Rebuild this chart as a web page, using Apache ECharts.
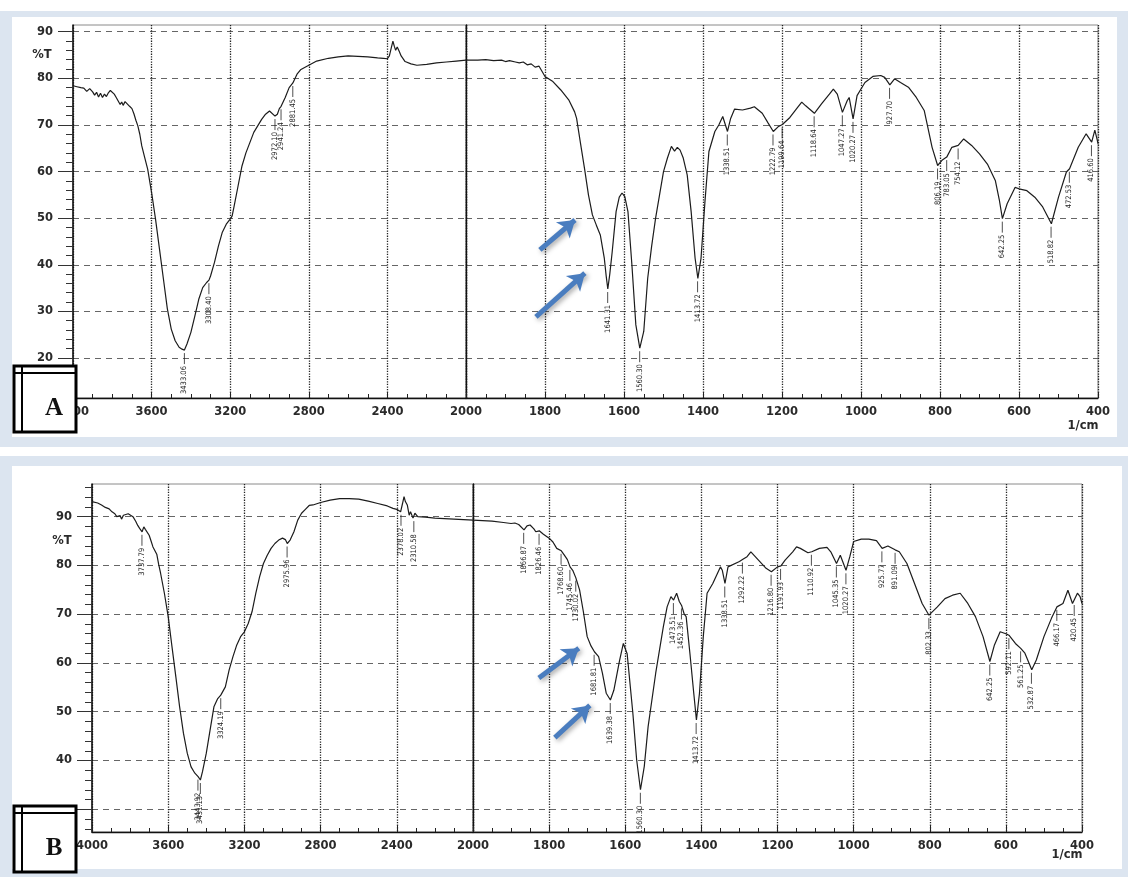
<!DOCTYPE html>
<html>
<head>
<meta charset="utf-8">
<title>FTIR spectra A and B</title>
<script src="https://cdn.jsdelivr.net/npm/echarts@6/dist/echarts.min.js"></script>
<style>
html,body{margin:0;padding:0;background:#fff;}
#main{width:1128px;height:877px;}
</style>
</head>
<body>
<div id="main"></div>
<script>
// ---- spectrum A (wavenumber 1/cm, %T) ----
var wnA = [4000,3980,3960,3945,3930,3915,3900,3890,3880,3870,3860,3850,3840,3830,3820,3810,3800,3790,3780,3770,
  3760,3752,3745,3735,3725,3712,3700,3690,3680,3670,3660,3650,3635,3620,3600,3580,3560,3540,3520,3500,
  3480,3460,3445,3433,3420,3400,3380,3360,3340,3320,3308,3300,3280,3260,3240,3220,3200,3190,3180,3160,
  3140,3120,3100,3080,3060,3040,3020,3000,2990,2972,2960,2950,2941,2920,2900,2881,2860,2840,2800,2760,
  2700,2650,2600,2550,2500,2450,2420,2400,2390,2380,2372,2365,2358,2350,2340,2330,2310,2280,2250,2200,
  2150,2100,2050,2000,1970,1950,1930,1910,1900,1890,1875,1865,1855,1845,1835,1825,1815,1800,1780,1760,
  1740,1725,1720,1710,1700,1690,1680,1670,1660,1650,1645,1641,1636,1630,1620,1612,1605,1598,1590,1580,
  1570,1560,1550,1540,1530,1520,1510,1500,1490,1480,1472,1465,1458,1450,1440,1430,1420,1413,1405,1395,
  1385,1370,1360,1350,1345,1338,1330,1320,1300,1280,1270,1250,1235,1222,1210,1199,1180,1160,1150,1140,
  1118,1100,1080,1070,1060,1047,1035,1030,1020,1010,1000,990,970,950,940,927,915,900,880,860,
  840,820,806,795,783,770,754,740,720,700,680,660,650,642,630,610,600,580,560,540,
  518,500,480,472,450,430,425,416,408,402,400];
var tA = [78.4,78.2,78.0,77.9,77.2,77.8,77.1,76.4,77.0,76.0,76.8,75.9,76.6,76.1,76.9,77.4,77.2,76.6,75.9,76.3,
  74.4,74.9,74.2,75.0,74.6,74.0,73.5,72.4,71.0,69.8,68.0,65.5,63.0,60.5,55.5,49.8,43.4,37.0,30.6,26.2,
  23.7,22.3,21.9,21.7,23.0,25.5,29.0,32.6,35.1,36.2,36.7,37.6,40.5,44.0,47.0,48.7,49.8,50.5,52.6,56.9,
  61.2,64.0,66.2,68.4,69.8,71.2,72.3,73.0,72.6,71.9,72.3,73.5,74.0,75.9,78.0,79.0,80.9,81.9,82.8,83.7,
  84.3,84.6,84.8,84.7,84.6,84.4,84.3,84.2,84.8,86.6,88.0,86.9,86.0,86.7,85.8,84.8,83.6,83.1,82.8,83.0,
  83.3,83.5,83.7,83.9,83.9,84.0,83.8,83.9,83.6,83.8,83.5,83.3,83.5,82.9,83.1,82.4,82.6,80.4,79.3,77.5,
  75.4,72.8,71.4,66.0,60.7,55.0,50.7,48.5,46.4,41.5,37.5,34.8,38.0,42.7,51.4,54.5,55.4,54.6,51.4,40.0,
  27.1,22.1,25.7,37.1,44.0,50.0,55.0,60.0,62.9,65.4,64.4,65.2,64.6,62.9,59.3,51.4,41.4,37.1,41.4,53.6,
  64.3,68.6,70.0,71.8,72.1,68.6,71.4,73.4,73.2,73.6,73.9,72.5,70.4,68.6,69.6,70.1,71.6,73.8,74.9,74.1,
  72.5,74.5,76.6,77.7,76.6,72.7,75.2,75.9,71.3,76.3,77.7,79.1,80.4,80.6,80.2,78.6,79.9,79.1,78.1,75.9,
  73.1,65.2,61.3,62.4,63.1,65.2,65.6,67.0,65.6,63.8,61.6,58.1,54.0,49.9,53.1,56.6,56.3,55.9,54.5,52.4,
  48.8,54.5,59.9,60.6,65.2,68.1,68.4,66.3,68.9,66.8,66.0];

// ---- spectrum B ----
var wnB = [4000,3970,3950,3930,3910,3895,3880,3870,3860,3852,3845,3835,3825,3810,3800,3785,3770,3760,3750,3737,
  3728,3720,3710,3700,3690,3680,3670,3660,3650,3640,3620,3600,3580,3560,3540,3520,3500,3480,3460,3443,
  3431,3420,3400,3380,3360,3340,3324,3300,3280,3260,3240,3220,3200,3180,3160,3140,3120,3100,3080,3060,
  3040,3020,3000,2985,2975,2960,2940,2920,2900,2880,2860,2840,2800,2750,2700,2650,2600,2550,2500,2450,
  2420,2400,2380,2370,2362,2355,2345,2335,2328,2315,2305,2290,2250,2200,2100,2000,1950,1920,1900,1890,
  1880,1866,1858,1850,1840,1835,1826,1815,1800,1790,1780,1768,1760,1752,1745,1738,1730,1720,1710,1700,
  1690,1681,1670,1660,1650,1639,1630,1615,1605,1595,1580,1570,1560,1550,1540,1520,1500,1490,1480,1473,
  1465,1458,1452,1445,1440,1430,1420,1413,1405,1395,1385,1370,1350,1345,1338,1330,1300,1292,1280,1270,
  1250,1230,1216,1200,1191,1180,1160,1150,1140,1120,1110,1090,1070,1060,1045,1035,1020,1010,1000,980,
  960,940,925,910,891,880,860,840,820,802,780,760,740,720,700,680,660,642,630,615,
  600,592,575,561,550,532,520,500,480,466,450,437,425,412,405,400];
var tB = [93.1,92.8,92.4,91.9,91.6,91.0,90.6,90.0,89.6,90.2,89.5,90.3,90.0,90.6,90.5,90.0,89.0,88.2,87.6,86.9,
  87.9,87.4,87.2,86.2,85.0,83.8,83.4,82.3,80.2,78.4,74.3,69.5,63.3,57.2,51.0,45.6,41.5,38.7,37.4,36.7,
  36.0,37.7,41.5,46.3,51.0,52.7,53.4,55.1,58.6,61.3,63.7,65.4,66.4,68.1,70.5,74.3,77.7,80.4,82.1,83.5,
  84.5,85.2,85.6,85.3,84.5,85.2,86.9,89.3,90.7,91.5,92.3,92.4,92.9,93.4,93.7,93.7,93.6,93.2,92.7,92.2,
  91.7,91.5,91.0,92.7,94.1,93.1,92.4,90.3,91.0,89.7,90.7,90.0,89.9,89.7,89.5,89.3,89.1,88.8,88.6,88.7,
  88.4,87.3,88.1,88.3,87.5,86.9,87.1,86.4,85.6,84.8,83.5,83.0,82.1,81.2,79.7,79.0,77.5,75.0,70.5,65.4,
  63.5,62.3,61.3,57.9,53.8,52.4,54.4,60.5,64.0,61.9,49.7,40.1,34.0,38.8,46.9,57.9,67.4,71.5,73.6,72.9,
  74.3,72.6,71.8,70.0,69.5,61.9,53.8,48.3,53.8,65.4,74.3,76.3,79.7,79.0,76.3,79.7,80.8,81.2,81.8,82.8,
  81.1,79.4,78.7,79.7,79.9,81.1,82.8,83.8,83.5,82.6,82.8,83.5,83.7,82.8,80.4,82.1,79.0,81.8,84.9,85.4,
  85.4,85.1,83.5,84.0,83.2,82.8,80.4,76.3,72.2,69.8,71.5,73.2,73.9,74.3,72.2,69.5,65.4,60.3,63.7,66.4,
  66.0,65.7,64.0,63.0,62.0,58.6,60.6,65.4,69.2,71.5,72.2,74.9,72.2,74.3,73.6,72.2];

// ---- peak annotations ----
var peaksA = ['3433.06','3308.40','2972.10','2941.24','2881.45','1641.31','1560.30','1413.72','1338.51','1222.79',
  '1199.64','1118.64','1047.27','1020.27','927.70','806.19','783.05','754.12','642.25','518.82','472.53','416.60'];
var peakTA = [21.7,36.7,71.9,74.0,79.0,34.8,22.1,37.1,68.6,68.6,70.1,72.5,72.7,71.3,78.6,61.3,63.1,65.6,49.9,48.8,60.6,66.3];
var peaksB = ['3737.79','3443.92','3431.13','3324.19','2975.96','2378.02','2310.58','1866.87','1826.46','1768.60',
  '1745.46','1730.02','1681.81','1639.38','1560.30','1473.51','1452.36','1413.72','1338.51','1292.22','1216.80',
  '1191.93','1110.92','1045.35','1020.27','925.77','891.09','802.33','642.25','592.11','561.25','532.87','466.17','420.45'];
var peakTB = [86.9,36.7,36.0,53.4,84.5,91.0,89.7,87.3,87.1,83.0,79.7,77.5,62.3,52.4,34.0,72.9,71.8,48.3,76.3,81.2,78.7,
  79.9,82.8,80.4,79.0,83.5,83.2,69.8,60.3,65.7,63.0,58.6,71.5,72.5];

// arrows: [fromWn, fromT, toWn, toT]
var arrowsA = [[1813,43.2,1724,49.6],[1823,28.8,1699,38.2]];
var arrowsB = [[1827,56.9,1722,63.0],[1785,44.7,1693,51.3]];

var yTicksA = [20,30,40,50,60,70,80,90];
var yTicksB = [30,40,50,60,70,80,90];
var yLabelsB = [40,50,60,70,80,90];   // 30 sits under the "B" box

function part(wn, t, lo, hi){
  var out = [];
  for (var i = 0; i < wn.length; i++) {
    if (wn[i] >= lo && wn[i] <= hi) out.push([wn[i], t[i]]);
  }
  return out;
}
function minorVals(lo, hi){
  var out = [];
  for (var v = lo; v <= hi; v += 2) { if (v % 10 !== 0) out.push(v); }
  return out;
}

var lblFont = '7.5px "Liberation Sans Narrow", "DejaVu Sans Condensed", sans-serif';
function peakSeries(xi, yi, labels, ts, lo, hi){
  var texts = [], data = [];
  labels.forEach(function(s, i){
    var w = parseFloat(s);
    if (w >= lo && w <= hi) { texts.push(s); data.push([w, ts[i]]); }
  });
  return {
    type: 'custom', xAxisIndex: xi, yAxisIndex: yi, silent: true, z: 5,
    encode: {x: 0, y: 1},
    data: data,
    renderItem: function(params, api){
      var p = api.coord([api.value(0), api.value(1)]);
      return {type: 'group', children: [
        {type: 'line', shape: {x1: p[0], y1: p[1] + 3, x2: p[0], y2: p[1] + 14},
          style: {stroke: '#222', lineWidth: 0.8}},
        {type: 'text', x: p[0], y: p[1] + 16, rotation: Math.PI / 2,
          style: {text: texts[params.dataIndex], fill: '#222', font: lblFont,
            align: 'right', verticalAlign: 'middle'}}
      ]};
    }
  };
}

function arrowLines(list){
  return list.map(function(a){ return [{coord: [a[0], a[1]]}, {coord: [a[2], a[3]]}]; });
}

var axisFont = {color: '#2a2a2a', fontSize: 11.5, fontWeight: 'bold', fontFamily: 'DejaVu Sans'};

function xAxisCfg(grid, min, max, step, hide){
  return {
    type: 'value', gridIndex: grid, min: min, max: max, interval: step, inverse: true,
    axisLine: {show: true, onZero: false, lineStyle: {color: '#111', width: 1.3}},
    axisTick: {show: true, inside: true, length: 6, lineStyle: {color: '#222'}},
    minorTick: {show: true, splitNumber: 4, length: 4, lineStyle: {color: '#222'}},
    axisLabel: Object.assign({margin: 8, formatter: function(v){ return v === hide ? '' : String(v); }}, axisFont),
    splitLine: {show: true, lineStyle: {color: '#222', type: 'dotted', width: 1.3}}
  };
}
function yMain(grid, min, max, ticks, labels){
  return {
    type: 'value', gridIndex: grid, min: min, max: max, position: 'left',
    axisLine: {show: true, lineStyle: {color: '#111', width: 1.5}},
    axisTick: {show: true, length: 15, customValues: ticks, lineStyle: {color: '#333'}},
    axisLabel: Object.assign({margin: 20, customValues: labels}, axisFont),
    splitLine: {show: true, lineStyle: {color: '#666', type: [6, 5], width: 1}}
  };
}
function yMinor(grid, min, max, lo, hi){
  return {
    type: 'value', gridIndex: grid, min: min, max: max, position: 'left',
    axisLine: {show: false},
    axisTick: {show: true, length: 7, customValues: minorVals(lo, hi), lineStyle: {color: '#333'}},
    axisLabel: {show: false}, splitLine: {show: false}
  };
}
function yRight(grid, min, max, ticks){
  return {
    type: 'value', gridIndex: grid, min: min, max: max, position: 'left',
    axisLine: {show: true, lineStyle: {color: '#111', width: 1.3}},
    axisTick: {show: false, customValues: ticks},
    axisLabel: {show: false},
    splitLine: {show: true, lineStyle: {color: '#666', type: [6, 5], width: 1}}
  };
}

var curveStyle = {color: '#1c1c1c', width: 1.2};
var arrowStyle = {
  silent: true, symbol: ['none', 'arrow'], symbolSize: 16,
  lineStyle: {color: '#4a7dbf', width: 5, type: 'solid', opacity: 1,
    shadowBlur: 5, shadowColor: 'rgba(0,0,0,0.35)', shadowOffsetX: 2, shadowOffsetY: 2},
  itemStyle: {color: '#4a7dbf'},
  label: {show: false}, emphasis: {disabled: true}
};

var gridBox = {show: true, borderColor: '#8a8a8a', borderWidth: 1};

// letter box drawn on top of axis labels (covers the "40" of 4000 in panel A)
function boxGraphic(x, y, letter){
  return [
    {type: 'rect', z: 200, shape: {x: x, y: y, width: 62, height: 66}, style: {fill: '#fff', stroke: '#000', lineWidth: 3}},
    {type: 'line', z: 201, shape: {x1: x + 8, y1: y, x2: x + 8, y2: y + 66}, style: {stroke: '#000', lineWidth: 2}},
    {type: 'line', z: 201, shape: {x1: x, y1: y + 7, x2: x + 62, y2: y + 7}, style: {stroke: '#000', lineWidth: 2}},
    {type: 'text', z: 202, x: x + 40, y: y + 43, style: {text: letter, font: 'bold 25px "Liberation Serif", serif',
      fill: '#111', align: 'center', verticalAlign: 'middle'}}
  ];
}
function txt(x, y, s){
  return {type: 'text', z: 50, x: x, y: y, style: {text: s, font: 'bold 11.5px "DejaVu Sans"', fill: '#2a2a2a',
    align: 'center', verticalAlign: 'middle'}};
}

var chart = echarts.init(document.getElementById('main'));
var option = {
  animation: false,
  backgroundColor: '#fff',
  grid: [
    Object.assign({left: 73, top: 25, width: 393, height: 373}, gridBox),
    Object.assign({left: 466, top: 25, width: 632, height: 373}, gridBox),
    Object.assign({left: 92, top: 484, width: 381, height: 348}, gridBox),
    Object.assign({left: 473, top: 484, width: 609, height: 348}, gridBox)
  ],
  xAxis: [
    xAxisCfg(0, 2000, 4000, 400, 2000),
    xAxisCfg(1, 400, 2000, 200, null),
    xAxisCfg(2, 2000, 4000, 400, 2000),
    xAxisCfg(3, 400, 2000, 200, null)
  ],
  yAxis: [
    yMain(0, 11.42, 91.44, yTicksA, yTicksA),
    yMinor(0, 11.42, 91.44, 12, 90),
    yRight(1, 11.42, 91.44, yTicksA),
    yMain(2, 25.34, 96.7, yTicksB, yLabelsB),
    yMinor(2, 25.34, 96.7, 26, 96),
    yRight(3, 25.34, 96.7, yTicksB)
  ],
  graphic: {elements: [
    {type: 'rect', z: -10, silent: true, shape: {x: 0, y: 11, width: 1128, height: 436}, style: {fill: '#dce5f0'}},
    {type: 'rect', z: -9, silent: true, shape: {x: 12, y: 17, width: 1105, height: 420}, style: {fill: '#fff'}},
    {type: 'rect', z: -10, silent: true, shape: {x: 0, y: 456, width: 1128, height: 421}, style: {fill: '#dce5f0'}},
    {type: 'rect', z: -9, silent: true, shape: {x: 12, y: 466, width: 1110, height: 403}, style: {fill: '#fff'}},
    txt(42, 55, '%T'), txt(62, 541, '%T'),
    txt(1083, 426, '1/cm'), txt(1067, 855, '1/cm')
  ].concat(boxGraphic(14, 366, 'A'), boxGraphic(14, 806, 'B'))},
  series: [
    {type: 'line', xAxisIndex: 0, yAxisIndex: 0, data: part(wnA, tA, 2000, 4000), showSymbol: false,
      lineStyle: curveStyle, silent: true, z: 3},
    {type: 'line', xAxisIndex: 1, yAxisIndex: 2, data: part(wnA, tA, 400, 2000), showSymbol: false,
      lineStyle: curveStyle, silent: true, z: 3,
      markLine: Object.assign({data: arrowLines(arrowsA)}, arrowStyle)},
    {type: 'line', xAxisIndex: 2, yAxisIndex: 3, data: part(wnB, tB, 2000, 4000), showSymbol: false,
      lineStyle: curveStyle, silent: true, z: 3},
    {type: 'line', xAxisIndex: 3, yAxisIndex: 5, data: part(wnB, tB, 400, 2000), showSymbol: false,
      lineStyle: curveStyle, silent: true, z: 3,
      markLine: Object.assign({data: arrowLines(arrowsB)}, arrowStyle)},
    peakSeries(0, 0, peaksA, peakTA, 2000, 4000),
    peakSeries(1, 2, peaksA, peakTA, 400, 2000),
    peakSeries(2, 3, peaksB, peakTB, 2000, 4000),
    peakSeries(3, 5, peaksB, peakTB, 400, 2000)
  ]
};
chart.setOption(option);
window.addEventListener('resize', function(){ chart.resize(); });
</script>
</body>
</html>
